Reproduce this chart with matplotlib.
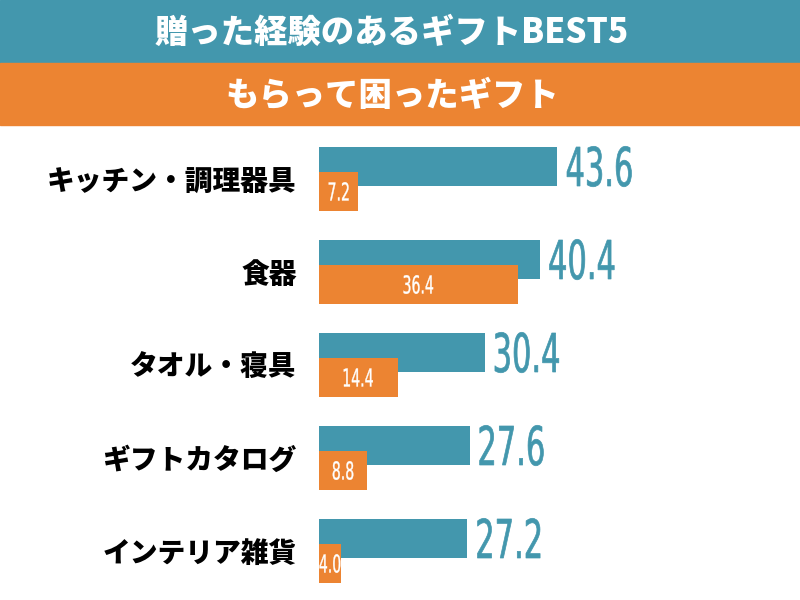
import matplotlib
matplotlib.use("Agg")
import matplotlib.pyplot as plt
from matplotlib.patches import Rectangle, PathPatch
from matplotlib.textpath import TextPath
from matplotlib.font_manager import FontProperties
from matplotlib.transforms import Affine2D

# data
categories = ["キッチン・調理器具", "食器", "タオル・寝具", "ギフトカタログ", "インテリア雑貨"]
gave = [43.6, 40.4, 30.4, 27.6, 27.2]       # 贈った経験のあるギフト
troubled = [7.2, 36.4, 14.4, 8.8, 4.0]      # もらって困ったギフト
title_gave = "贈った経験のあるギフトBEST5"
title_troubled = "もらって困ったギフト"

teal = "#4397ad"
orange = "#ec8432"
jp = ["Noto Sans CJK JP", "DejaVu Sans"]

fig = plt.figure(figsize=(8, 6), dpi=100)
W, H = 800, 600

# header bands
fig.patches.append(Rectangle((0, 1 - 63 / H), 1, 63 / H, transform=fig.transFigure,
                             color=teal, zorder=0))
fig.patches.append(Rectangle((0, 1 - 125 / H), 1, 62 / H, transform=fig.transFigure,
                             color=orange, zorder=0))
fig.text(0.49, 1 - 32 / H, title_gave, color="white", fontsize=24, fontweight=900,
         family=jp, ha="center", va="center")
fig.text(0.49, 1 - 95 / H, title_troubled, color="white", fontsize=24, fontweight=900,
         family=jp, ha="center", va="center")

# bar area
left_px = 319
ax = fig.add_axes([left_px / W, 0, (W - left_px) / W, 475 / H])
px_per_unit = 238 / 43.6
ax.set_xlim(0, (W - left_px) / px_per_unit)
row_px = 93
ax.set_ylim(421 / row_px, -54 / row_px)

ys = list(range(len(categories)))
off = 12.5 / row_px
h = 39 / row_px
ax.barh([y - off for y in ys], gave, height=h, color=teal, zorder=2)
ax.barh([y + off for y in ys], troubled, height=h, color=orange, zorder=3)

ax.set_yticks(ys)
ax.set_yticklabels(categories, family=jp, fontsize=20, fontweight=900)
ax.tick_params(axis="y", length=0, pad=16)
ax.set_xticks([])
for s in ax.spines.values():
    s.set_visible(False)

# condensed number labels (squeezed text paths, in pixel coords)
numprop = FontProperties(family="DejaVu Sans")


def cond_label(x, y, s, digit_h, color, ha, dx=0, squeeze=0.57, lw=0.0):
    px, py = ax.transData.transform((x, y))
    size = digit_h / 0.729
    tp = TextPath((0, 0), s, size=size, prop=numprop)
    ext = tp.get_extents()
    w = ext.width * squeeze
    x0 = px + dx if ha == "left" else px - w / 2
    tr = Affine2D().translate(-ext.x0, 0).scale(squeeze, 1).translate(x0, py - digit_h / 2)
    fig.patches.append(PathPatch(tp, transform=tr, facecolor=color, edgecolor=color,
                                 lw=lw, zorder=5))


for y, g, t in zip(ys, gave, troubled):
    cond_label(g, y - off, f"{g:.1f}", 39, teal, "left", dx=10, lw=0.5)
    cond_label(t / 2, y + off, f"{t:.1f}", 18, "white", "center", lw=0.25)

fig.savefig("out.png", dpi=100)
